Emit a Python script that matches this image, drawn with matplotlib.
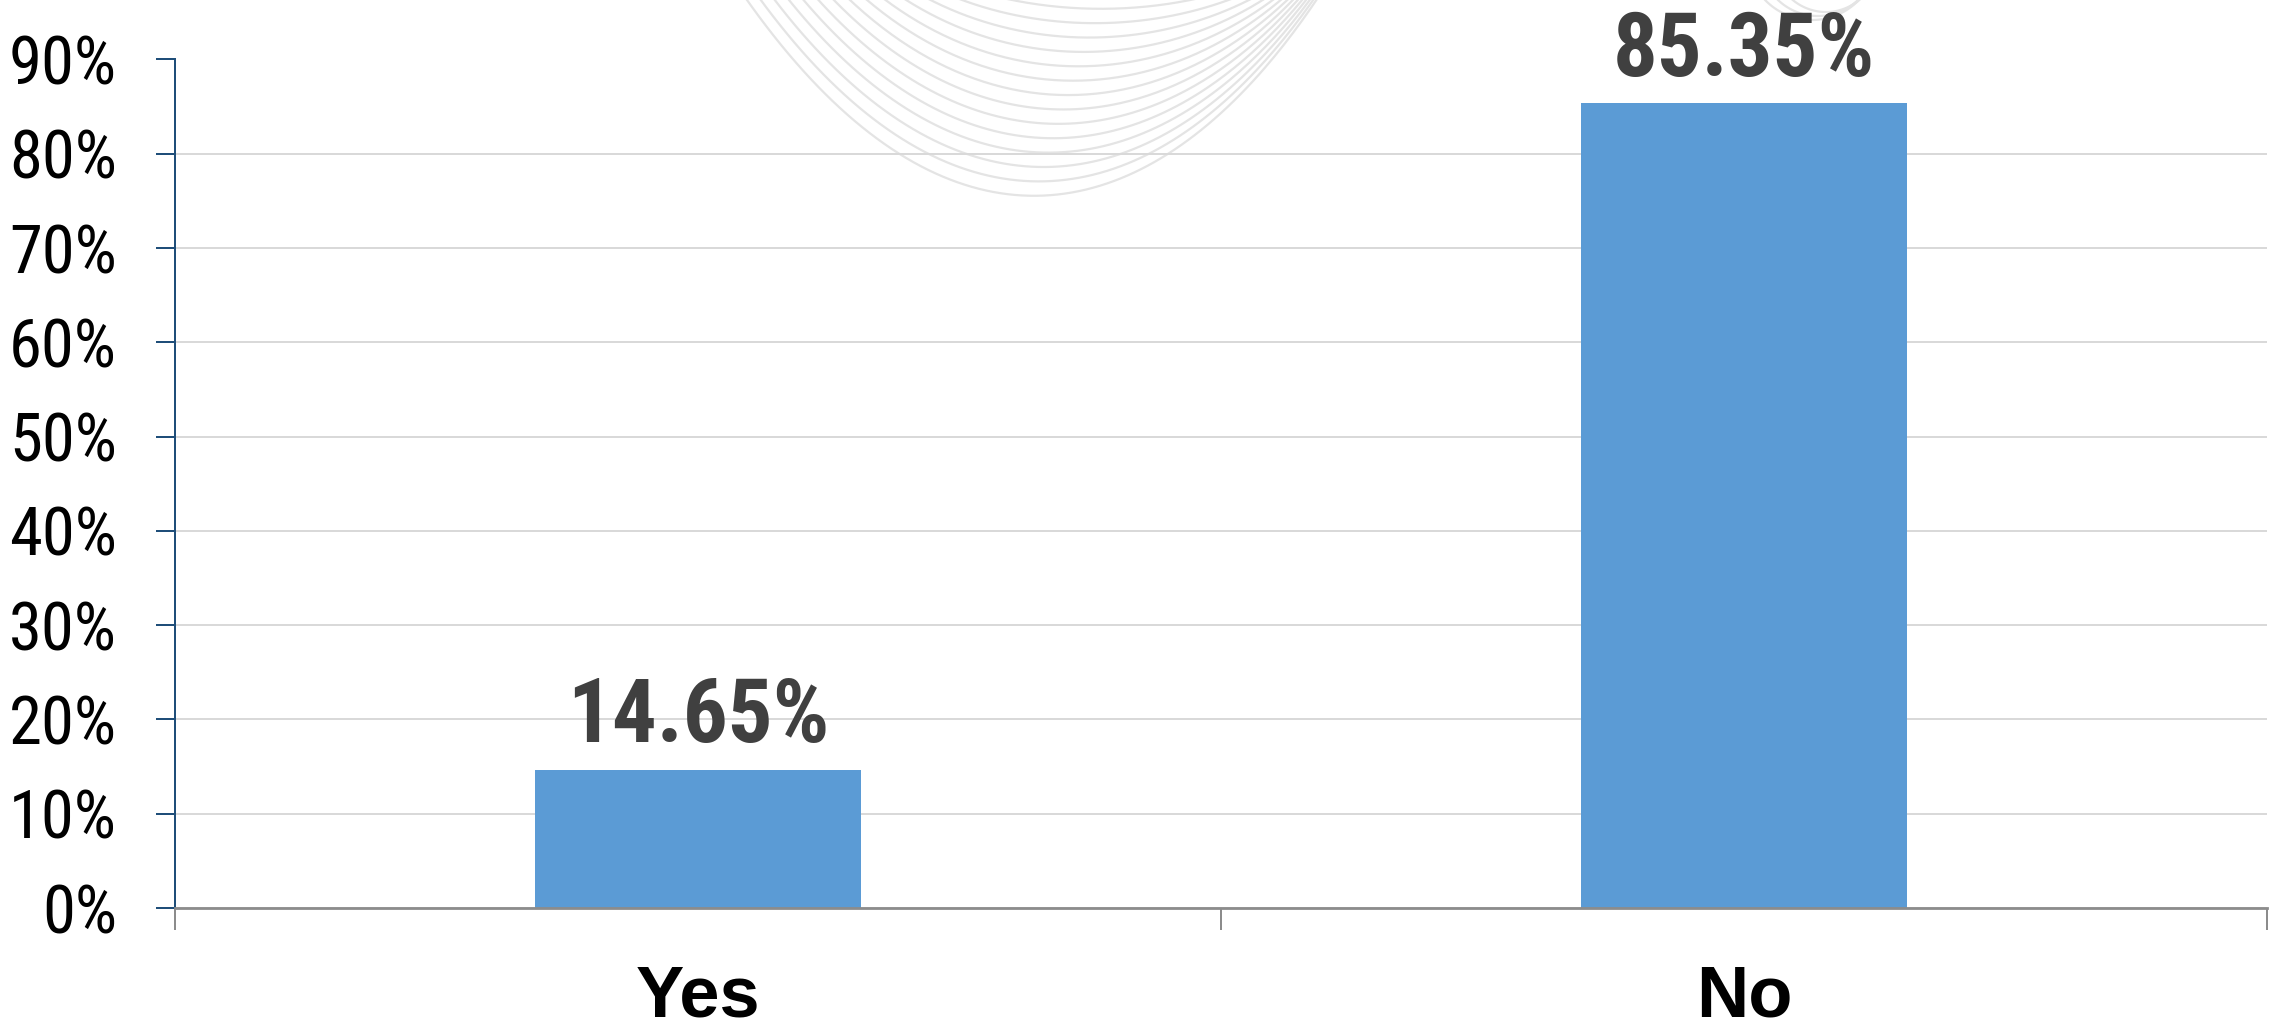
import numpy as np
import matplotlib
matplotlib.use("Agg")
import matplotlib.pyplot as plt
from matplotlib.ticker import PercentFormatter

# data
categories = ["Yes", "No"]
shares = [14.65, 85.35]
y_ticks = [0, 10, 20, 30, 40, 50, 60, 70, 80, 90]

NARROW = ["Liberation Sans Narrow", "Arial Narrow", "Roboto Condensed",
          "Liberation Sans", "DejaVu Sans"]
WIDE = ["Liberation Sans", "Arimo", "DejaVu Sans"]
plt.rcParams["font.family"] = NARROW

W, H = 2277, 1030
fig = plt.figure(figsize=(W / 100, H / 100), dpi=100)

# faint decorative swirl behind the chart (pixel space)
bg = fig.add_axes([0, 0, 1, 1], zorder=0)
bg.set_xlim(0, W)
bg.set_ylim(H, 0)
bg.axis("off")
low_curve = np.array([[690, -90], [930, 330], [1190, 250], [1370, -90]])
high_curve = np.array([[860, -70], [990, 40], [1230, 30], [1340, -70]])
t = np.linspace(0, 1, 200)[:, None]
for k in np.linspace(0, 1, 14):
    P = (1 - k) * low_curve + k * high_curve
    pts = ((1 - t)**3 * P[0] + 3 * (1 - t)**2 * t * P[1]
           + 3 * (1 - t) * t**2 * P[2] + t**3 * P[3])
    bg.plot(pts[:, 0], pts[:, 1], color="#E4E4E4", lw=1.6)
arc_centers = [(1812, -45), (1818, -42), (1826, -40)]
arc_radii = [65, 58, 52]
th = np.linspace(0, np.pi, 100)
for (cx, cy), r in zip(arc_centers, arc_radii):
    bg.plot(cx + r * np.cos(th), cy + r * np.sin(th), color="#E4E4E4", lw=1.6)

# main chart
ax = fig.add_axes([175 / W, (H - 908) / H, (2267 - 175) / W, (908 - 59.5) / H], zorder=1)
ax.patch.set_alpha(0)
x = np.arange(len(categories))
ax.bar(x, shares, width=0.3125, color="#5B9BD5", zorder=3)
ax.set_xlim(-0.5, len(categories) - 0.5)
ax.set_ylim(0, 90)
ax.set_yticks(y_ticks)
ax.yaxis.set_major_formatter(PercentFormatter(decimals=0))
ax.grid(axis="y", color="#D9D9D9", lw=1.44)
ax.set_axisbelow(True)

for xi, v in zip(x, shares):
    ax.annotate(f"{v:.2f}%", (xi, v), xytext=(0, 20), textcoords="offset points",
                ha="center", va="baseline", fontsize=64, fontweight="bold",
                color="#404040", annotation_clip=False)

ax.set_xticks(x)
ax.set_xticklabels(categories, fontsize=52, fontweight="bold", family=WIDE)
ax.set_xticks(np.arange(-0.5, len(categories)), minor=True)
ax.tick_params(axis="x", which="major", length=0, pad=40)
ax.tick_params(axis="x", which="minor", length=16, width=1.44, color="#8C8C8C")
ax.tick_params(axis="y", length=13.7, width=1.44, color="#1F4E79", pad=28,
               labelsize=48, labelcolor="black")

for side in ["top", "right"]:
    ax.spines[side].set_visible(False)
ax.spines["left"].set_color("#1F4E79")
ax.spines["left"].set_linewidth(1.44)
ax.spines["bottom"].set_color("#8C8C8C")
ax.spines["bottom"].set_linewidth(2)
ax.spines["bottom"].set_zorder(4)

fig.savefig("out.png", dpi=100)
